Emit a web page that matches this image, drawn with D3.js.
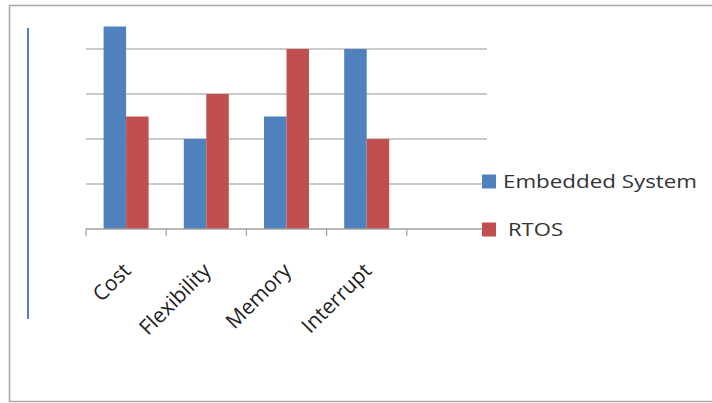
<!DOCTYPE html>
<html>
<head>
<meta charset="utf-8">
<script src="https://cdn.jsdelivr.net/npm/d3@7"></script>
<style>
  html, body { margin: 0; padding: 0; background: #fff; }
  svg { display: block; }
</style>
</head>
<body>
<svg id="chart" width="712" height="403"></svg>
<script>
// Chart data
const categories = ["Cost", "Flexibility", "Memory", "Interrupt", ""];
const seriesNames = ["Embedded System", "RTOS"];
const embeddedValues = [4.5, 2, 2.5, 4, null];
const rtosValues = [2.5, 3, 4, 2, null];
const gridTicks = [1, 2, 3, 4];
const colors = ["#4f81bd", "#c0504d"];

const svg = d3.select("#chart");
const W = 712, H = 403;

// Outer frame
svg.append("rect")
  .attr("x", 9.5).attr("y", 5.5)
  .attr("width", W).attr("height", H - 7)
  .attr("fill", "#fff").attr("stroke", "#a6a6a6").attr("stroke-width", 1.5);

// Thin blue vertical rule on the left
svg.append("line")
  .attr("x1", 28).attr("x2", 28).attr("y1", 28).attr("y2", 319)
  .attr("stroke", "#4f81bd").attr("stroke-width", 2);

const plot = { left: 86, right: 487, top: 4, bottom: 229 };

const x0 = d3.scaleBand().domain(d3.range(categories.length))
  .range([plot.left, plot.right]).paddingInner(0).paddingOuter(0);
const groupW = 45;
const x1 = d3.scaleBand().domain([0, 1]).range([0, groupW]);
const y = d3.scaleLinear().domain([0, 5]).range([plot.bottom, plot.top]);

// Horizontal gridlines
svg.append("g").selectAll("line").data(gridTicks).join("line")
  .attr("x1", plot.left).attr("x2", plot.right)
  .attr("y1", d => y(d)).attr("y2", d => y(d))
  .attr("stroke", "#b8b8b8").attr("stroke-width", 1.5);

// Bars
const series = [embeddedValues, rtosValues];
series.forEach((vals, si) => {
  svg.append("g").selectAll("rect")
    .data(vals.map((v, i) => ({ v, i })).filter(d => d.v != null))
    .join("rect")
    .attr("x", d => x0(d.i) + (x0.bandwidth() - groupW) / 2 + x1(si))
    .attr("width", x1.bandwidth())
    .attr("y", d => y(d.v))
    .attr("height", d => y(0) - y(d.v))
    .attr("fill", colors[si]);
});

// Category axis with ticks at band boundaries
const axisG = svg.append("g");
axisG.append("line")
  .attr("x1", plot.left).attr("x2", plot.right)
  .attr("y1", plot.bottom).attr("y2", plot.bottom)
  .attr("stroke", "#a0a0a0").attr("stroke-width", 1.5);
const tickXs = d3.range(categories.length + 1).map(i => plot.left + i * x0.step());
axisG.selectAll("line.tick").data(tickXs).join("line")
  .attr("class", "tick")
  .attr("x1", d => d).attr("x2", d => d)
  .attr("y1", plot.bottom).attr("y2", plot.bottom + 7)
  .attr("stroke", "#a0a0a0").attr("stroke-width", 1.2);

// Rotated category labels
axisG.selectAll("text").data(categories.filter(c => c)).join("text")
  .attr("transform", (d, i) => {
    const cx = x0(i) + x0.bandwidth() / 2 + 6;
    return `translate(${cx},${plot.bottom + 43}) rotate(-45)`;
  })
  .attr("text-anchor", "end")
  .attr("font-family", "'Open Sans', sans-serif")
  .attr("font-size", 21)
  .attr("fill", "#222")
  .text(d => d);

// Legend
const legend = svg.append("g");
const legendRows = [181.5, 229.5];
const legendTextLen = [194, 55];
seriesNames.forEach((name, i) => {
  legend.append("rect")
    .attr("x", 482).attr("y", legendRows[i] - 7)
    .attr("width", 14).attr("height", 14)
    .attr("fill", colors[i]);
  legend.append("text")
    .attr("x", i === 0 ? 503 : 508).attr("y", legendRows[i] + 6.5)
    .attr("font-family", "'Open Sans', sans-serif")
    .attr("font-size", 18)
    .attr("textLength", legendTextLen[i])
    .attr("lengthAdjust", "spacingAndGlyphs")
    .attr("fill", "#333")
    .text(name);
});
</script>
</body>
</html>
